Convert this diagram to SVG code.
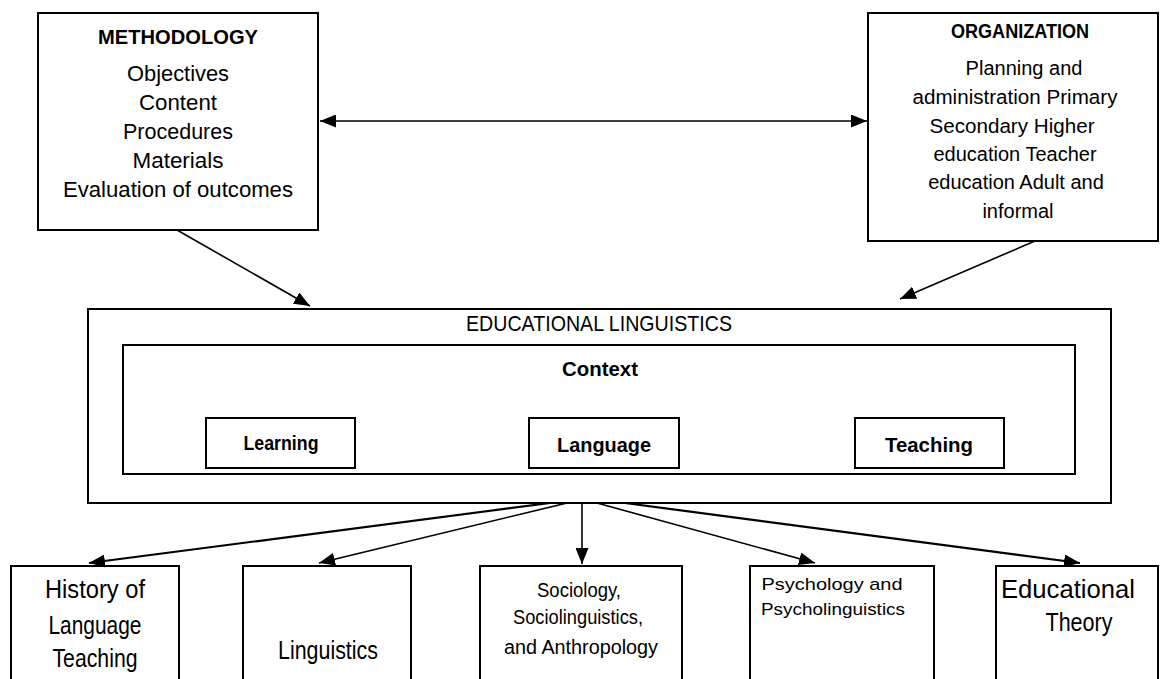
<svg xmlns="http://www.w3.org/2000/svg" width="1161" height="679" viewBox="0 0 1161 679">
<style>
.box{fill:#fff;stroke:#000;stroke-width:2}
.t{font-family:"Liberation Sans",Arial,sans-serif;fill:#000;text-anchor:middle}
.b{font-weight:bold}
.c{stroke:#000;stroke-width:1.6;fill:none}
.c2{stroke:#000;stroke-width:2.2;fill:none}
</style>
<defs>
<marker id="ah" viewBox="0 0 16 13" refX="16" refY="6.5" markerWidth="16" markerHeight="13" markerUnits="userSpaceOnUse" orient="auto-start-reverse">
<path d="M0,0 L16,6.5 L0,13 z" fill="#000"/>
</marker>
</defs>
<rect width="1161" height="679" fill="#fff"/>

<g id="methodology">
<rect class="box" x="38" y="13" width="280" height="217"/>
<text class="t b" x="178" y="44" font-size="21" textLength="160" lengthAdjust="spacingAndGlyphs">METHODOLOGY</text>
<text class="t" x="178" y="81" font-size="22" textLength="102" lengthAdjust="spacingAndGlyphs">Objectives</text>
<text class="t" x="178" y="110" font-size="22" textLength="78" lengthAdjust="spacingAndGlyphs">Content</text>
<text class="t" x="178" y="139" font-size="22" textLength="110" lengthAdjust="spacingAndGlyphs">Procedures</text>
<text class="t" x="178" y="168" font-size="22" textLength="91" lengthAdjust="spacingAndGlyphs">Materials</text>
<text class="t" x="178" y="197" font-size="22" textLength="230" lengthAdjust="spacingAndGlyphs">Evaluation of outcomes</text>
</g>

<g id="organization">
<rect class="box" x="868" y="13" width="290" height="228"/>
<text class="t b" x="1020" y="38" font-size="20" textLength="138" lengthAdjust="spacingAndGlyphs">ORGANIZATION</text>
<text class="t" x="1024" y="75" font-size="20">Planning and</text>
<text class="t" x="1015" y="104" font-size="20" textLength="205" lengthAdjust="spacingAndGlyphs">administration Primary</text>
<text class="t" x="1012" y="133" font-size="20" textLength="165" lengthAdjust="spacingAndGlyphs">Secondary Higher</text>
<text class="t" x="1015" y="161" font-size="20">education Teacher</text>
<text class="t" x="1016" y="189" font-size="20">education Adult and</text>
<text class="t" x="1018" y="218" font-size="20">informal</text>
</g>

<g id="educational-linguistics">
<rect class="box" x="88" y="309" width="1023" height="194"/>
<text class="t" x="599" y="331" font-size="22" textLength="266" lengthAdjust="spacingAndGlyphs">EDUCATIONAL LINGUISTICS</text>
</g>

<g id="context">
<rect class="box" x="123" y="345" width="952" height="129"/>
<text class="t b" x="600" y="376" font-size="20" textLength="76" lengthAdjust="spacingAndGlyphs">Context</text>
</g>

<g id="learning">
<rect class="box" x="206" y="418" width="149" height="50"/>
<text class="t b" x="281" y="450" font-size="20" textLength="75" lengthAdjust="spacingAndGlyphs">Learning</text>
</g>
<g id="language">
<rect class="box" x="529" y="418" width="150" height="50"/>
<text class="t b" x="604" y="452" font-size="21" textLength="94" lengthAdjust="spacingAndGlyphs">Language</text>
</g>
<g id="teaching">
<rect class="box" x="855" y="418" width="149" height="50"/>
<text class="t b" x="929" y="452" font-size="21" textLength="88" lengthAdjust="spacingAndGlyphs">Teaching</text>
</g>

<g id="history">
<rect class="box" x="11" y="566" width="168" height="130"/>
<text class="t" x="95" y="598" font-size="26" textLength="100" lengthAdjust="spacingAndGlyphs">History of</text>
<text class="t" x="95" y="634" font-size="26" textLength="93" lengthAdjust="spacingAndGlyphs">Language</text>
<text class="t" x="95" y="667" font-size="26" textLength="85" lengthAdjust="spacingAndGlyphs">Teaching</text>
</g>
<g id="linguistics">
<rect class="box" x="243" y="566" width="168" height="130"/>
<text class="t" x="328" y="659" font-size="26" textLength="100" lengthAdjust="spacingAndGlyphs">Linguistics</text>
</g>
<g id="sociology">
<rect class="box" x="480" y="566" width="202" height="130"/>
<text class="t" x="579" y="597" font-size="20" textLength="84" lengthAdjust="spacingAndGlyphs">Sociology,</text>
<text class="t" x="578" y="624" font-size="20" textLength="130" lengthAdjust="spacingAndGlyphs">Sociolinguistics,</text>
<text class="t" x="581" y="654" font-size="20" textLength="154" lengthAdjust="spacingAndGlyphs">and Anthropology</text>
</g>
<g id="psychology">
<rect class="box" x="750" y="566" width="184" height="130"/>
<text class="t" x="832" y="590" font-size="17" textLength="141" lengthAdjust="spacingAndGlyphs">Psychology and</text>
<text class="t" x="833" y="615" font-size="17" textLength="144" lengthAdjust="spacingAndGlyphs">Psycholinguistics</text>
</g>
<g id="educational-theory">
<rect class="box" x="996" y="566" width="162" height="130"/>
<text class="t" x="1068" y="598" font-size="26" textLength="134" lengthAdjust="spacingAndGlyphs">Educational</text>
<text class="t" x="1079" y="631" font-size="26" textLength="67" lengthAdjust="spacingAndGlyphs">Theory</text>
</g>

<g id="connectors">
<line class="c" x1="320" y1="121" x2="867" y2="121" marker-start="url(#ah)" marker-end="url(#ah)"/>
<line class="c" x1="177" y1="230" x2="310" y2="306" marker-end="url(#ah)"/>
<line class="c" x1="1035" y1="241" x2="900" y2="299" marker-end="url(#ah)"/>
<line class="c2" x1="550" y1="503" x2="89" y2="563" marker-end="url(#ah)"/>
<line class="c" x1="567" y1="503" x2="319" y2="563" marker-end="url(#ah)"/>
<line class="c" x1="582" y1="503" x2="582" y2="564" marker-end="url(#ah)"/>
<line class="c" x1="597" y1="503" x2="815" y2="563" marker-end="url(#ah)"/>
<line class="c2" x1="625" y1="503" x2="1080" y2="563" marker-end="url(#ah)"/>
</g>
</svg>
